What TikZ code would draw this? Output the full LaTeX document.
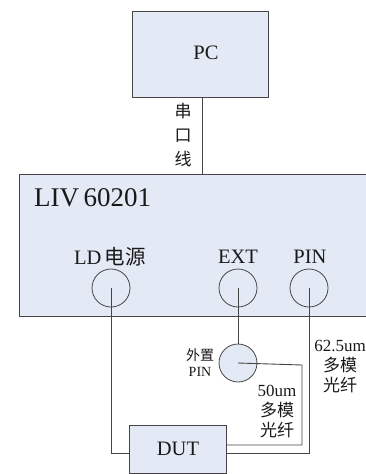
\documentclass[tikz,border=0pt]{standalone}
\usepackage{fontspec}
\setmainfont{Liberation Serif}
\newfontfamily\cjk{Noto Sans CJK SC}
\definecolor{boxfill}{HTML}{E4EAF5}
\definecolor{edge}{HTML}{454545}
\begin{document}
\begin{tikzpicture}[x=1pt,y=-1pt,
  box/.style={draw=edge,fill=boxfill,line width=0.9pt,inner sep=0pt},
  port/.style={circle,draw=edge,line width=0.8pt,minimum size=38pt,inner sep=0pt},
  wire/.style={draw=edge,line width=0.9pt},
  lbl/.style={inner sep=0pt,text=black!90}]
\useasboundingbox (0,0) rectangle (366,474);
\clip (0,0) rectangle (366,474);
% PC
\node[box,minimum width=136pt,minimum height=86pt] (pc) at (200,54) {};
\node[lbl,font=\fontsize{20.5}{22}\selectfont] (pctext) at (206,53) {PC};
% LIV box
\node[box,minimum width=360pt,minimum height=142pt] (liv) at (199,245) {};
\node[lbl,font=\fontsize{27}{28}\selectfont,anchor=west] (livtext) at (34,198) {LIV\,60201};
% serial line
\coordinate (sertop) at (202,97);
\coordinate (serbot) at (202,174);
\draw[wire] (sertop) -- (serbot);
\node[lbl,font=\cjk\fontsize{17}{18}\selectfont,align=center] (ser) at (183,135) {串\\[6pt]口\\[6pt]线};
% port labels
\node[lbl,font=\fontsize{20.5}{22}\selectfont] (ldl) at (110,257) {LD\,{\cjk 电源}};
\node[lbl,font=\fontsize{20.5}{22}\selectfont] (extl) at (238,257) {EXT};
\node[lbl,font=\fontsize{20.5}{22}\selectfont] (pinl) at (310,257) {PIN};
% ports
\node[port] (ld) at (111,288) {};
\node[port] (ext) at (238,288) {};
\node[port] (pin) at (309,288) {};
% external PIN
\node[port,fill=boxfill] (xpin) at (238,363) {};
\node[lbl,font=\fontsize{14}{16}\selectfont,align=center] (xpinl) at (200,363) {{\cjk 外置}\\PIN};
% DUT
\node[box,minimum width=97pt,minimum height=48pt] (dut) at (178,449) {};
\node[lbl,font=\fontsize{20.5}{22}\selectfont] (duttext) at (178,449) {DUT};
% wires
\draw[wire] (ld.center) |- (dut.west |- 0,453);
\draw[wire] (ext.center) -- (xpin.north);
\draw[wire] (xpin.center) -- (302,365) |- (dut.east |- 0,445);
\draw[wire] (pin.center) |- (dut.east |- 0,453);
% fiber labels
\node[lbl,font=\fontsize{17}{19}\selectfont,align=center] (f50) at (277,412) {50um\\[1pt]{\cjk 多模}\\[1pt]{\cjk 光纤}};
\node[lbl,font=\fontsize{17}{19}\selectfont,align=center] (f62) at (340,367) {62.5um\\[1pt]{\cjk 多模}\\[1pt]{\cjk 光纤}};
\end{tikzpicture}
\end{document}
